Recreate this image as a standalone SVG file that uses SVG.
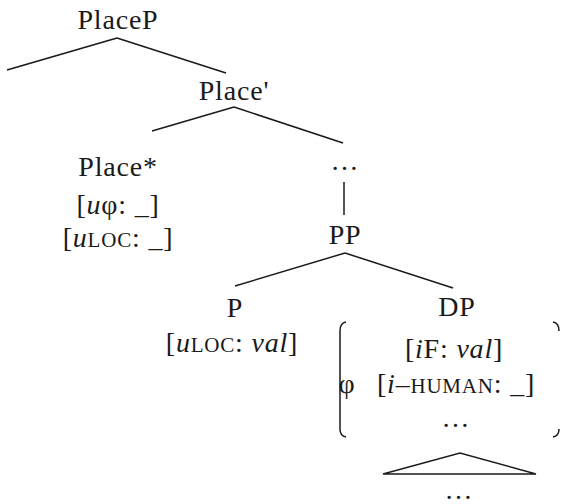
<svg xmlns="http://www.w3.org/2000/svg" width="561" height="504" viewBox="0 0 561 504">
<style>
text{font-family:"Liberation Serif","DejaVu Serif",serif;font-size:28px;letter-spacing:0.8px;fill:#1a1a1a;text-anchor:middle}
.i{font-style:italic}
.sc{font-size:21px}
.e{stroke:#1a1a1a;stroke-width:1.5;fill:none}
</style>
<rect width="561" height="504" fill="#fff"/>
<g id="connectors">
<line class="e" x1="117" y1="38" x2="7" y2="70"/>
<line class="e" x1="117" y1="38" x2="226" y2="73"/>
<line class="e" x1="234" y1="107" x2="152" y2="131"/>
<line class="e" x1="234" y1="107" x2="343" y2="143"/>
<line class="e" x1="344" y1="182" x2="344" y2="215"/>
<line class="e" x1="345" y1="253" x2="235" y2="286"/>
<line class="e" x1="345" y1="253" x2="453" y2="288"/>
<path class="e" d="M383,474 L460,453 L536,474 Z"/>
</g>
<g id="PlaceP"><text x="118" y="29">PlaceP</text></g>
<g id="PlaceBar"><text x="234" y="100">Place'</text></g>
<g id="PlaceStar">
<text x="118" y="176">Place*</text>
<text x="118" y="214">[<tspan class="i">u</tspan>φ: _]</text>
<text x="118" y="247">[<tspan class="i">u</tspan><tspan class="sc">LOC</tspan>: _]</text>
</g>
<g id="dots1"><text x="345" y="170">…</text></g>
<g id="PP"><text x="345" y="244">PP</text></g>
<g id="P">
<text x="235" y="317">P</text>
<text x="232" y="352">[<tspan class="i">u</tspan><tspan class="sc">LOC</tspan>: <tspan class="i">val</tspan>]</text>
</g>
<g id="DP">
<text x="457" y="316">DP</text>
<path class="e" d="M346,322 Q340,323 340,331 L340,429 Q340,436 346,437"/>
<path class="e" d="M553,322 Q559,323 559,331 M559,429 Q559,436 553,437"/>
<text x="454" y="358">[<tspan class="i">i</tspan>F: <tspan class="i">val</tspan>]</text>
<text x="347" y="393">φ</text>
<text x="456" y="393">[<tspan class="i">i</tspan>–<tspan class="sc">HUMAN</tspan>: _]</text>
<text x="456" y="427">…</text>
</g>
<g id="dots2"><text x="459" y="499">…</text></g>
</svg>
